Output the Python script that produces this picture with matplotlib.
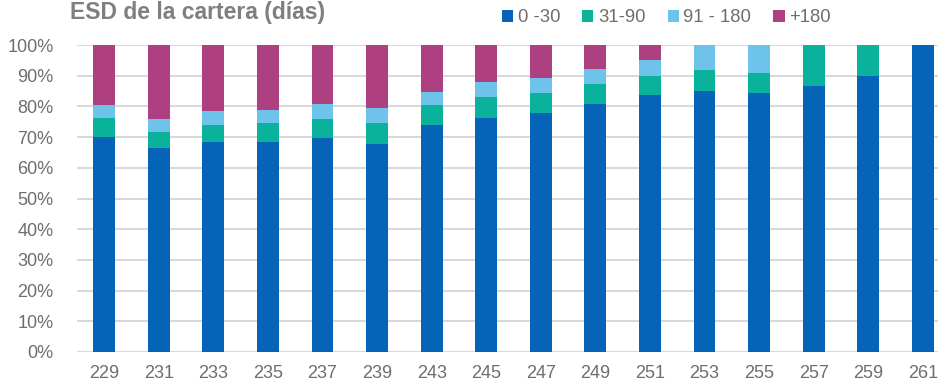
import matplotlib
matplotlib.use("Agg")
import matplotlib.pyplot as plt
from matplotlib.patches import Patch
import numpy as np

plt.rcParams['font.family'] = ['Liberation Sans', 'DejaVu Sans']

categories = ["229", "231", "233", "235", "237", "239", "243", "245",
              "247", "249", "251", "253", "255", "257", "259", "261"]
s_0_30   = [70.1, 66.5, 68.5, 68.5, 69.8, 67.8, 74.0, 76.3, 77.9, 80.8, 83.8, 85.1, 84.5, 86.5, 90.0, 100.0]
s_31_90  = [6.1, 5.1, 5.5, 6.2, 6.2, 6.9, 6.6, 6.9, 6.6, 6.6, 6.2, 6.9, 6.5, 13.5, 10.0, 0.0]
s_91_180 = [4.2, 4.4, 4.5, 4.1, 4.8, 4.8, 4.1, 4.6, 4.8, 4.9, 5.0, 8.0, 9.0, 0.0, 0.0, 0.0]
s_180p   = [19.6, 24.0, 21.5, 21.2, 19.2, 20.5, 15.3, 12.2, 10.7, 7.7, 5.0, 0.0, 0.0, 0.0, 0.0, 0.0]
series_names = ["0 -30", "31-90", "91 - 180", "+180"]
colors = ["#0563B8", "#0BB29B", "#6EC3EA", "#AE4082"]

text_color = "#6E6E6E"

fig = plt.figure(figsize=(9.38, 3.83), dpi=100)
ax = fig.add_axes([77/938, 31/383, (938-77)/938, 307/383])

x = np.arange(len(categories))
bottom = np.zeros(len(categories))
handles = []
for vals, name, c in zip([s_0_30, s_31_90, s_91_180, s_180p], series_names, colors):
    v = np.array(vals) / 100.0
    ax.bar(x, v, bottom=bottom, width=0.4, color=c, zorder=3)
    bottom += v
    handles.append(Patch(facecolor=c, label=name))

ax.set_ylim(0, 1)
ax.set_xlim(-0.5, 15.28)
ax.set_yticks(np.arange(0, 1.01, 0.1))
ax.set_yticklabels([f"{int(round(t*100))}%" for t in np.arange(0, 1.01, 0.1)])
ax.set_xticks(x)
ax.set_xticklabels(categories)
ax.tick_params(axis='both', length=0, labelsize=13, colors=text_color)
ax.tick_params(axis='y', pad=17)
ax.tick_params(axis='x', pad=9)
ax.grid(axis='y', color="#D9D9D9", linewidth=1.5, zorder=0)
for s in ax.spines.values():
    s.set_visible(False)

fig.text(70/938, 1 - 19/383, "ESD de la cartera (días)", fontsize=16.5, fontweight='bold',
         color="#7F7F7F", va='baseline', ha='left')

leg = fig.legend(handles=handles, loc='center left', bbox_to_anchor=(502/938, 1 - 18/383),
                 ncol=4, frameon=False, fontsize=13.3, handlelength=0.6, handleheight=0.6,
                 handletextpad=0.25, columnspacing=1.2, borderaxespad=0, borderpad=0)
for t in leg.get_texts():
    t.set_color(text_color)

fig.savefig("out.png", dpi=100)
